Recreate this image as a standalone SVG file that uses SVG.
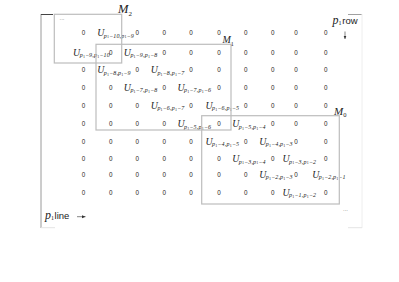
<svg xmlns="http://www.w3.org/2000/svg" width="399" height="282" viewBox="0 0 399 282">
<style>
.z{font:6.3px "Liberation Sans",Arial,sans-serif;fill:#2a2520;text-anchor:middle}
.u{font:italic 9.8px "Liberation Serif","Times New Roman",serif;fill:#222}
.s{font-size:6px;letter-spacing:0.2px}
.s1{font-size:4px;font-style:normal}
.box{fill:none;stroke:#bdbdbd;stroke-width:1.2}
.m{font:italic 11px "Liberation Serif","Times New Roman",serif;fill:#222}
.ms{font-size:7px;font-style:normal}
.lab{font:9.5px "Liberation Sans",Arial,sans-serif;fill:#222}
.dots{font:6px "Liberation Sans",Arial,sans-serif;fill:#777}
</style>
<defs>
<marker id="ah" markerWidth="4" markerHeight="4" refX="3.5" refY="2" orient="auto" markerUnits="userSpaceOnUse">
<path d="M0,0.5 L3.5,2 L0,3.5 Z" fill="#333"/>
</marker>
</defs>
<rect width="399" height="282" fill="#fff"/>
<g id="frame">
<line x1="41" y1="14" x2="41" y2="228" stroke="#9a9a9a" stroke-width="1"/>
<line x1="41" y1="14.5" x2="53" y2="14.5" stroke="#444" stroke-width="1"/>
<line x1="348" y1="14.5" x2="362" y2="14.5" stroke="#888" stroke-width="0.8"/>
<line x1="362" y1="14" x2="362" y2="228" stroke="#eeeeee" stroke-width="1"/>
<line x1="41" y1="227.7" x2="55" y2="227.7" stroke="#e4e4e4" stroke-width="1"/>
<line x1="348" y1="227.7" x2="362" y2="227.7" stroke="#e4e4e4" stroke-width="1"/>
</g>
<g id="zeros">
<text class="z" x="83.5" y="34.9">0</text><text class="z" x="137.3" y="34.9">0</text><text class="z" x="164.3" y="34.9">0</text><text class="z" x="191" y="34.9">0</text><text class="z" x="219" y="34.9">0</text><text class="z" x="245.7" y="34.9">0</text><text class="z" x="272.7" y="34.9">0</text><text class="z" x="296" y="34.9">0</text><text class="z" x="325.7" y="34.9">0</text>
<text class="z" x="110.7" y="54.5">0</text><text class="z" x="164.3" y="54.5">0</text><text class="z" x="191" y="54.5">0</text><text class="z" x="219" y="54.5">0</text><text class="z" x="245.7" y="54.5">0</text><text class="z" x="272.7" y="54.5">0</text><text class="z" x="296" y="54.5">0</text><text class="z" x="325.7" y="54.5">0</text>
<text class="z" x="83.5" y="72.2">0</text><text class="z" x="137.3" y="72.2">0</text><text class="z" x="191" y="72.2">0</text><text class="z" x="219" y="72.2">0</text><text class="z" x="245.7" y="72.2">0</text><text class="z" x="272.7" y="72.2">0</text><text class="z" x="296" y="72.2">0</text><text class="z" x="325.7" y="72.2">0</text>
<text class="z" x="83.5" y="89.5">0</text><text class="z" x="110.7" y="89.5">0</text><text class="z" x="164.3" y="89.5">0</text><text class="z" x="219" y="89.5">0</text><text class="z" x="245.7" y="89.5">0</text><text class="z" x="272.7" y="89.5">0</text><text class="z" x="296" y="89.5">0</text><text class="z" x="325.7" y="89.5">0</text>
<text class="z" x="83.5" y="107.5">0</text><text class="z" x="110.7" y="107.5">0</text><text class="z" x="137.3" y="107.5">0</text><text class="z" x="191" y="107.5">0</text><text class="z" x="245.7" y="107.5">0</text><text class="z" x="272.7" y="107.5">0</text><text class="z" x="296" y="107.5">0</text><text class="z" x="325.7" y="107.5">0</text>
<text class="z" x="83.5" y="126.2">0</text><text class="z" x="110.7" y="126.2">0</text><text class="z" x="137.3" y="126.2">0</text><text class="z" x="164.3" y="126.2">0</text><text class="z" x="219" y="126.2">0</text><text class="z" x="272.7" y="126.2">0</text><text class="z" x="296" y="126.2">0</text><text class="z" x="325.7" y="126.2">0</text>
<text class="z" x="83.5" y="143.5">0</text><text class="z" x="110.7" y="143.5">0</text><text class="z" x="137.3" y="143.5">0</text><text class="z" x="164.3" y="143.5">0</text><text class="z" x="191" y="143.5">0</text><text class="z" x="245.7" y="143.5">0</text><text class="z" x="296" y="143.5">0</text><text class="z" x="325.7" y="143.5">0</text>
<text class="z" x="83.5" y="160.9">0</text><text class="z" x="110.7" y="160.9">0</text><text class="z" x="137.3" y="160.9">0</text><text class="z" x="164.3" y="160.9">0</text><text class="z" x="191" y="160.9">0</text><text class="z" x="219" y="160.9">0</text><text class="z" x="272.7" y="160.9">0</text><text class="z" x="325.7" y="160.9">0</text>
<text class="z" x="83.5" y="176.5">0</text><text class="z" x="110.7" y="176.5">0</text><text class="z" x="137.3" y="176.5">0</text><text class="z" x="164.3" y="176.5">0</text><text class="z" x="191" y="176.5">0</text><text class="z" x="219" y="176.5">0</text><text class="z" x="245.7" y="176.5">0</text><text class="z" x="296" y="176.5">0</text>
<text class="z" x="83.5" y="194.5">0</text><text class="z" x="110.7" y="194.5">0</text><text class="z" x="137.3" y="194.5">0</text><text class="z" x="164.3" y="194.5">0</text><text class="z" x="191" y="194.5">0</text><text class="z" x="219" y="194.5">0</text><text class="z" x="245.7" y="194.5">0</text><text class="z" x="272.7" y="194.5">0</text><text class="z" x="325.7" y="194.5">0</text>
</g>
<g id="entries">
<text class="u" x="97.2" y="36">U<tspan class="s" dx="-0.5" dy="1.5">p</tspan><tspan class="s1" dy="0.8">1</tspan><tspan class="s" dy="-0.8">−10,p</tspan><tspan class="s1" dy="0.8">1</tspan><tspan class="s" dy="-0.8">−9</tspan></text>
<text class="u" x="73.1" y="55.6">U<tspan class="s" dx="-0.5" dy="1.5">p</tspan><tspan class="s1" dy="0.8">1</tspan><tspan class="s" dy="-0.8">−9,p</tspan><tspan class="s1" dy="0.8">1</tspan><tspan class="s" dy="-0.8">−10</tspan></text>
<text class="u" x="123.8" y="55.6">U<tspan class="s" dx="-0.5" dy="1.5">p</tspan><tspan class="s1" dy="0.8">1</tspan><tspan class="s" dy="-0.8">−9,p</tspan><tspan class="s1" dy="0.8">1</tspan><tspan class="s" dy="-0.8">−8</tspan></text>
<text class="u" x="97.2" y="73.3">U<tspan class="s" dx="-0.5" dy="1.5">p</tspan><tspan class="s1" dy="0.8">1</tspan><tspan class="s" dy="-0.8">−8,p</tspan><tspan class="s1" dy="0.8">1</tspan><tspan class="s" dy="-0.8">−9</tspan></text>
<text class="u" x="150.8" y="73.3">U<tspan class="s" dx="-0.5" dy="1.5">p</tspan><tspan class="s1" dy="0.8">1</tspan><tspan class="s" dy="-0.8">−8,p</tspan><tspan class="s1" dy="0.8">1</tspan><tspan class="s" dy="-0.8">−7</tspan></text>
<text class="u" x="123.8" y="90.6">U<tspan class="s" dx="-0.5" dy="1.5">p</tspan><tspan class="s1" dy="0.8">1</tspan><tspan class="s" dy="-0.8">−7,p</tspan><tspan class="s1" dy="0.8">1</tspan><tspan class="s" dy="-0.8">−8</tspan></text>
<text class="u" x="177.5" y="90.6">U<tspan class="s" dx="-0.5" dy="1.5">p</tspan><tspan class="s1" dy="0.8">1</tspan><tspan class="s" dy="-0.8">−7,p</tspan><tspan class="s1" dy="0.8">1</tspan><tspan class="s" dy="-0.8">−6</tspan></text>
<text class="u" x="150.8" y="108.6">U<tspan class="s" dx="-0.5" dy="1.5">p</tspan><tspan class="s1" dy="0.8">1</tspan><tspan class="s" dy="-0.8">−6,p</tspan><tspan class="s1" dy="0.8">1</tspan><tspan class="s" dy="-0.8">−7</tspan></text>
<text class="u" x="205.5" y="108.6">U<tspan class="s" dx="-0.5" dy="1.5">p</tspan><tspan class="s1" dy="0.8">1</tspan><tspan class="s" dy="-0.8">−6,p</tspan><tspan class="s1" dy="0.8">1</tspan><tspan class="s" dy="-0.8">−5</tspan></text>
<text class="u" x="177.5" y="127.3">U<tspan class="s" dx="-0.5" dy="1.5">p</tspan><tspan class="s1" dy="0.8">1</tspan><tspan class="s" dy="-0.8">−5,p</tspan><tspan class="s1" dy="0.8">1</tspan><tspan class="s" dy="-0.8">−6</tspan></text>
<text class="u" x="232.2" y="127.3">U<tspan class="s" dx="-0.5" dy="1.5">p</tspan><tspan class="s1" dy="0.8">1</tspan><tspan class="s" dy="-0.8">−5,p</tspan><tspan class="s1" dy="0.8">1</tspan><tspan class="s" dy="-0.8">−4</tspan></text>
<text class="u" x="205.5" y="144.6">U<tspan class="s" dx="-0.5" dy="1.5">p</tspan><tspan class="s1" dy="0.8">1</tspan><tspan class="s" dy="-0.8">−4,p</tspan><tspan class="s1" dy="0.8">1</tspan><tspan class="s" dy="-0.8">−5</tspan></text>
<text class="u" x="259.2" y="144.6">U<tspan class="s" dx="-0.5" dy="1.5">p</tspan><tspan class="s1" dy="0.8">1</tspan><tspan class="s" dy="-0.8">−4,p</tspan><tspan class="s1" dy="0.8">1</tspan><tspan class="s" dy="-0.8">−3</tspan></text>
<text class="u" x="232.2" y="162">U<tspan class="s" dx="-0.5" dy="1.5">p</tspan><tspan class="s1" dy="0.8">1</tspan><tspan class="s" dy="-0.8">−3,p</tspan><tspan class="s1" dy="0.8">1</tspan><tspan class="s" dy="-0.8">−4</tspan></text>
<text class="u" x="282.5" y="162">U<tspan class="s" dx="-0.5" dy="1.5">p</tspan><tspan class="s1" dy="0.8">1</tspan><tspan class="s" dy="-0.8">−3,p</tspan><tspan class="s1" dy="0.8">1</tspan><tspan class="s" dy="-0.8">−2</tspan></text>
<text class="u" x="259.2" y="177.6">U<tspan class="s" dx="-0.5" dy="1.5">p</tspan><tspan class="s1" dy="0.8">1</tspan><tspan class="s" dy="-0.8">−2,p</tspan><tspan class="s1" dy="0.8">1</tspan><tspan class="s" dy="-0.8">−3</tspan></text>
<text class="u" x="312.2" y="177.6">U<tspan class="s" dx="-0.5" dy="1.5">p</tspan><tspan class="s1" dy="0.8">1</tspan><tspan class="s" dy="-0.8">−2,p</tspan><tspan class="s1" dy="0.8">1</tspan><tspan class="s" dy="-0.8">−1</tspan></text>
<text class="u" x="282.5" y="195.6">U<tspan class="s" dx="-0.5" dy="1.5">p</tspan><tspan class="s1" dy="0.8">1</tspan><tspan class="s" dy="-0.8">−1,p</tspan><tspan class="s1" dy="0.8">1</tspan><tspan class="s" dy="-0.8">−2</tspan></text>
</g>
<g id="M2">
<rect class="box" x="54.3" y="14.3" width="67.4" height="48.7"/>
<text class="m" x="118" y="13.3" style="font-size:12.5px">M<tspan class="ms" dy="3">2</tspan></text>
</g>
<g id="M1">
<rect class="box" x="96" y="44.3" width="135" height="85.7"/>
<text class="m" x="222.5" y="43.3" style="font-size:10px">M<tspan class="ms" dy="2.7" style="font-size:6px">1</tspan></text>
</g>
<g id="M0">
<rect class="box" x="201.7" y="115.7" width="137.6" height="88.3"/>
<text class="m" x="334" y="115" style="font-size:11px">M<tspan class="ms" dy="2" style="font-size:6.5px">0</tspan></text>
</g>
<g id="labels">
<text class="dots" x="59.5" y="19.5">...</text>
<text class="dots" x="343" y="211">...</text>
<text class="m" x="332.5" y="23.5" style="font-size:12px">p<tspan class="ms" dy="1.3" style="font-size:6px">1</tspan><tspan class="lab" dy="-1.3" dx="0.8">row</tspan></text>
<text class="m" x="45" y="219" style="font-size:12px">p<tspan class="ms" dy="1.3" style="font-size:6px">1</tspan><tspan class="lab" dy="-1.3" dx="0.6">line</tspan></text>
</g>
<g id="connectors">
<line x1="345" y1="31.5" x2="345" y2="39" stroke="#333" stroke-width="0.6" marker-end="url(#ah)"/>
<line x1="77" y1="216.7" x2="85.5" y2="216.7" stroke="#333" stroke-width="0.6" marker-end="url(#ah)"/>
</g>
</svg>
